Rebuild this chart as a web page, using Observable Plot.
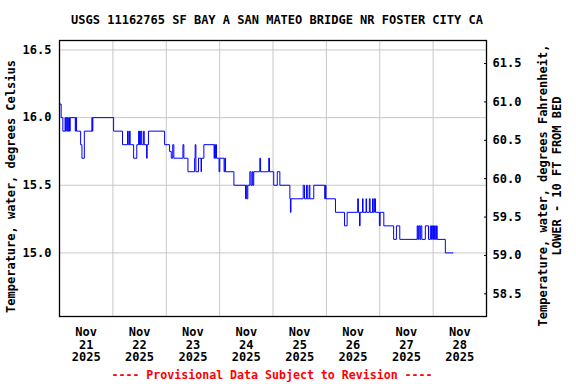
<!DOCTYPE html>
<html><head><meta charset="utf-8">
<script src="https://cdn.jsdelivr.net/npm/d3@7"></script>
<script src="https://cdn.jsdelivr.net/npm/@observablehq/plot@0.6"></script>
<style>
html,body{margin:0;padding:0;background:#fff;}
svg text{font-family:"DejaVu Sans Mono",monospace;font-weight:bold;}
</style></head><body><div id="chart"></div>
<script>
const title = "USGS 11162765 SF BAY A SAN MATEO BRIDGE NR FOSTER CITY CA";
const leftLabel = "Temperature, water, degrees Celsius";
const rightLabel = ["Temperature, water, degrees Fahrenheit,", "LOWER - 10 FT FROM BED"];
const footer = "---- Provisional Data Subject to Revision ----";

// time of each change in value (step-after), and the water temperature (deg C)
const times = [
 "2025-11-21T00:00","2025-11-21T00:45","2025-11-21T01:30","2025-11-21T02:30","2025-11-21T02:45","2025-11-21T03:00",
 "2025-11-21T03:20","2025-11-21T03:40","2025-11-21T03:55","2025-11-21T04:15","2025-11-21T04:30","2025-11-21T04:50",
 "2025-11-21T07:05","2025-11-21T07:20","2025-11-21T07:40","2025-11-21T09:30","2025-11-21T10:05","2025-11-21T11:10",
 "2025-11-21T14:35","2025-11-21T14:45","2025-11-21T15:00","2025-11-22T00:20","2025-11-22T04:20","2025-11-22T06:35",
 "2025-11-22T06:55","2025-11-22T07:30","2025-11-22T07:45","2025-11-22T09:20","2025-11-22T10:45","2025-11-22T11:35",
 "2025-11-22T11:50","2025-11-22T12:05","2025-11-22T12:20","2025-11-22T12:40","2025-11-22T13:00","2025-11-22T13:50",
 "2025-11-22T14:05","2025-11-22T15:10","2025-11-22T15:25","2025-11-22T16:00","2025-11-22T23:15","2025-11-23T01:30",
 "2025-11-23T02:15","2025-11-23T02:55","2025-11-23T03:25","2025-11-23T07:30","2025-11-23T07:55","2025-11-23T09:45",
 "2025-11-23T12:45","2025-11-23T13:00","2025-11-23T13:20","2025-11-23T14:30","2025-11-23T15:40","2025-11-23T15:50",
 "2025-11-23T16:55","2025-11-23T21:30","2025-11-23T21:45","2025-11-23T22:00","2025-11-23T22:15","2025-11-23T22:35",
 "2025-11-23T23:45","2025-11-24T00:05","2025-11-24T02:00","2025-11-24T02:20","2025-11-24T02:40","2025-11-24T06:25",
 "2025-11-24T11:40","2025-11-24T11:55","2025-11-24T12:15","2025-11-24T12:40","2025-11-24T13:35","2025-11-24T14:05",
 "2025-11-24T14:35","2025-11-24T14:55","2025-11-24T15:20","2025-11-24T18:05","2025-11-24T18:25","2025-11-24T22:05",
 "2025-11-24T22:25","2025-11-25T00:20","2025-11-25T01:55","2025-11-25T03:05","2025-11-25T07:35","2025-11-25T07:50",
 "2025-11-25T08:05","2025-11-25T13:35","2025-11-25T14:10","2025-11-25T15:05","2025-11-25T15:25","2025-11-25T16:15",
 "2025-11-25T16:35","2025-11-25T18:20","2025-11-25T23:15","2025-11-25T23:35","2025-11-25T23:50","2025-11-26T04:05",
 "2025-11-26T08:10","2025-11-26T09:20","2025-11-26T14:05","2025-11-26T14:25","2025-11-26T14:55","2025-11-26T15:10",
 "2025-11-26T16:15","2025-11-26T16:30","2025-11-26T17:50","2025-11-26T18:05","2025-11-26T19:20","2025-11-26T19:40",
 "2025-11-26T20:45","2025-11-26T21:05","2025-11-26T21:35","2025-11-26T22:05","2025-11-26T23:50","2025-11-27T00:10",
 "2025-11-27T01:50","2025-11-27T06:15","2025-11-27T07:30","2025-11-27T09:00","2025-11-27T16:50","2025-11-27T17:10",
 "2025-11-27T17:30","2025-11-27T18:00","2025-11-27T18:25","2025-11-27T18:55","2025-11-27T20:30","2025-11-27T21:55",
 "2025-11-27T22:45","2025-11-27T23:15","2025-11-27T23:40","2025-11-28T00:10","2025-11-28T00:35","2025-11-28T01:00",
 "2025-11-28T01:30","2025-11-28T01:50","2025-11-28T05:30","2025-11-28T09:00"
];
const tempC = [
 16.1,16.0,15.9,16.0,15.9,16.0,
 15.9,16.0,15.9,16.0,15.9,16.0,
 15.9,16.0,15.9,15.8,15.7,15.9,
 16.0,15.9,16.0,15.9,15.8,15.9,
 15.8,15.9,15.8,15.7,15.8,15.9,
 15.8,15.9,15.8,15.9,15.8,15.9,
 15.8,15.7,15.8,15.9,15.8,15.75,
 15.7,15.8,15.7,15.8,15.7,15.6,
 15.7,15.8,15.6,15.7,15.6,15.7,
 15.8,15.7,15.8,15.7,15.8,15.7,
 15.6,15.7,15.6,15.7,15.6,15.5,
 15.4,15.5,15.4,15.5,15.6,15.5,
 15.6,15.5,15.6,15.7,15.6,15.7,
 15.6,15.5,15.6,15.5,15.4,15.3,
 15.4,15.5,15.4,15.5,15.4,15.5,
 15.4,15.5,15.4,15.5,15.4,15.3,
 15.2,15.3,15.4,15.3,15.2,15.3,
 15.4,15.3,15.4,15.3,15.4,15.3,
 15.4,15.3,15.4,15.3,15.2,15.3,
 15.2,15.1,15.2,15.1,15.2,15.1,
 15.2,15.1,15.2,15.1,15.2,15.1,
 15.2,15.1,15.2,15.1,15.2,15.1,
 15.2,15.1,15.0,15.0
];

const celsiusTicks = [15.0, 15.5, 16.0, 16.5];
const fahrenheitTicks = [58.5, 59.0, 59.5, 60.0, 60.5, 61.0, 61.5];
const dayLabelTimes = ["2025-11-21T12:00","2025-11-22T12:00","2025-11-23T12:00","2025-11-24T12:00",
                       "2025-11-25T12:00","2025-11-26T12:00","2025-11-27T12:00","2025-11-28T12:00"];
const dayGridTimes = ["2025-11-22T00:00","2025-11-23T00:00","2025-11-24T00:00","2025-11-25T00:00",
                      "2025-11-26T00:00","2025-11-27T00:00","2025-11-28T00:00"];
const xDomainTimes = ["2025-11-21T00:00","2025-11-29T00:00"];
const yDomain = [14.53, 16.57];
const fDomain = [58.205, 61.80];

const toDate = s => new Date(s + ":00Z");
const data = times.map((t, i) => ({t: toDate(t), c: tempC[i]}));
const f2c = d3.scaleLinear(fDomain, yDomain);

const chart = Plot.plot({
  width: 576, height: 384,
  marginLeft: 59, marginRight: 90, marginTop: 40, marginBottom: 68,
  style: {fontFamily: "DejaVu Sans Mono", fontSize: "12px", fontWeight: "bold", color: "black", background: "white"},
  x: {type: "utc", domain: xDomainTimes.map(toDate)},
  y: {domain: yDomain},
  marks: [
    Plot.gridX(dayGridTimes.map(toDate), {stroke: "#c8c8c8", strokeOpacity: 1}),
    Plot.gridY(celsiusTicks, {stroke: "#c8c8c8", strokeOpacity: 1}),
    Plot.line(data, {x: "t", y: "c", curve: "step-after", stroke: "#0000ff", strokeWidth: 1}),
    Plot.frame({stroke: "black", strokeWidth: 1.3}),
    Plot.axisY(celsiusTicks, {anchor: "left", tickSize: 0, tickPadding: 8, tickFormat: d => d.toFixed(1), label: null, fill: "black"}),
    Plot.axisY(fahrenheitTicks.map(f2c), {anchor: "right", tickSize: -3, tickPadding: 9, stroke: "black",
      tickFormat: c => f2c.invert(c).toFixed(1), label: null}),
    Plot.axisX(dayLabelTimes.map(toDate), {anchor: "bottom", tickSize: 0, tickPadding: 10, lineHeight: 1.075,
      tickFormat: d3.utcFormat("%b\n%-d\n%Y"), label: null, fill: "black"})
  ]
});
document.getElementById("chart").appendChild(chart);

const svg = d3.select(chart);
svg.append("text").attr("x", 277).attr("y", 24).attr("text-anchor", "middle")
  .attr("font-size", 12).attr("fill", "black").text(title);
svg.append("text").attr("transform", "translate(15,186.5) rotate(-90)").attr("text-anchor", "middle")
  .attr("font-size", 12).attr("fill", "black").text(leftLabel);
svg.append("text").attr("transform", "translate(547,185.5) rotate(-90)").attr("text-anchor", "middle")
  .attr("font-size", 12).attr("fill", "black").text(rightLabel[0]);
svg.append("text").attr("transform", "translate(561,176) rotate(-90)").attr("text-anchor", "middle")
  .attr("font-size", 12).attr("fill", "black").text(rightLabel[1]);
svg.append("text").attr("x", 272).attr("y", 379).attr("text-anchor", "middle")
  .attr("font-size", 11.6).attr("fill", "#ff0000").text(footer);
</script></body></html>
